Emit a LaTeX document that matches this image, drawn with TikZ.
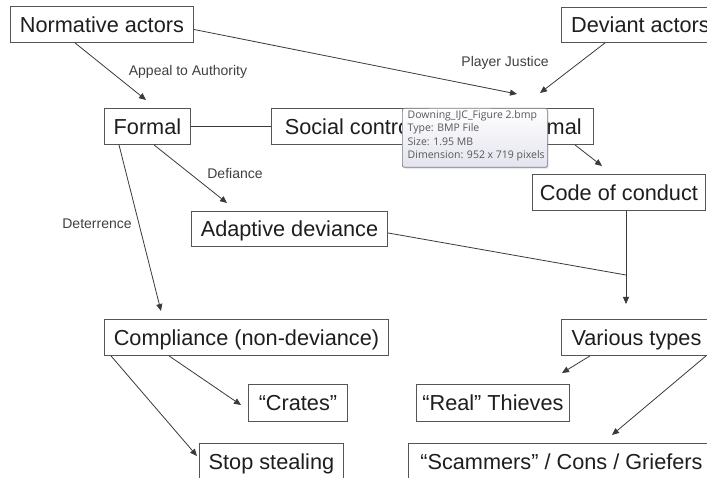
\documentclass[tikz,border=0pt]{standalone}
\usepackage{fontspec}
\setmainfont{Liberation Sans}
\newfontfamily\tipfont{Open Sans}
\usetikzlibrary{arrows.meta,shadows}
\definecolor{linec}{HTML}{3A3A3A}
\definecolor{boxc}{HTML}{555555}
\definecolor{txtc}{HTML}{1E1E1E}
\definecolor{lblc}{HTML}{404040}
\definecolor{tipborder}{HTML}{7A7A80}
\definecolor{tiptxt}{HTML}{575757}
\definecolor{tipbottom}{HTML}{E3E4EE}
\begin{document}
\begin{tikzpicture}[x=1pt,y=-1pt,
  box/.style={draw=boxc, line width=0.9pt, fill=white, anchor=north west, inner sep=0pt,
    text=txtc, font=\fontsize{21.7}{26}\selectfont, text height=15.5pt, text depth=0pt},
  lbl/.style={text=lblc, font=\fontsize{14}{16}\selectfont, inner sep=0pt},
  conn/.style={draw=linec, line width=0.8pt},
  arr/.style={conn, -{Triangle[length=7pt,width=6pt]}},
  tooltip/.style={draw=tipborder, line width=0.7pt, rounded corners=2pt, top color=white, bottom color=tipbottom,
    drop shadow={opacity=0.25, shadow xshift=1.2pt, shadow yshift=-1.2pt},
    anchor=north west, inner sep=0pt, text=tiptxt}
]
\useasboundingbox (0,0) rectangle (707,478);
\fill[white] (0,0) rectangle (707,478);
\clip (0,0) rectangle (707,478);

% boxes
\node[box, minimum width=183pt, minimum height=36pt] (norm) at (10,6) {Normative actors};
\node[box, minimum width=158pt, minimum height=35pt] (dev) at (561,7) {Deviant actors};
\node[box, minimum width=86pt, minimum height=36pt] (formal) at (104,108) {Formal};
\node[box, minimum width=157pt, minimum height=36pt] (social) at (271,108) {Social control};
\node[box, minimum width=102pt, minimum height=36pt] (informal) at (491,108) {Informal};
\node[box, minimum width=173pt, minimum height=36pt] (code) at (532,174) {Code of conduct};
\node[box, minimum width=196pt, minimum height=35pt] (adapt) at (191,211) {Adaptive deviance};
\node[box, minimum width=284pt, minimum height=36pt] (comp) at (104,319) {Compliance (non-deviance)};
\node[box, minimum width=150pt, minimum height=36pt] (various) at (561,319) {Various types};
\node[box, minimum width=99pt, minimum height=37pt] (crates) at (248,384) {“Crates”};
\node[box, minimum width=153pt, minimum height=37pt] (real) at (416,384) {“Real” Thieves};
\node[box, minimum width=144pt, minimum height=36pt] (stop) at (199,443) {Stop stealing};
\node[box, minimum width=306pt, minimum height=36pt] (scam) at (408,443) {“Scammers” / Cons / Griefers};

% free ends
\coordinate (eFormal) at (146,100);
\coordinate (eInfA) at (517,94);
\coordinate (eInfB) at (540,93);
\coordinate (eCode) at (602,166);
\coordinate (eAdapt) at (227,203);
\coordinate (eComp) at (161,311);
\coordinate (J) at (626,275);
\coordinate (eVar) at (626,304);
\coordinate (eCrates) at (241,405);
\coordinate (eStop) at (197,456);
\coordinate (eReal) at (562,373);
\coordinate (eScam) at (612,435);

% connectors
\draw[arr] ([xshift=65pt]norm.south west) -- (eFormal);
\draw[arr] ([yshift=-5pt]norm.east) -- (eInfA);
\draw[arr] ([xshift=44pt]dev.south west) -- (eInfB);
\draw[conn] (formal.east) -- (social.west);
\draw[conn] (social.east) -- (informal.west);
\draw[arr] ([xshift=84pt]informal.south west) -- (eCode);
\draw[arr] ([xshift=50pt]formal.south west) -- (eAdapt);
\draw[arr] ([xshift=15pt]formal.south west) -- (eComp);
\draw[conn] ([yshift=-4pt]adapt.east) -- (J);
\draw[arr] ([xshift=94pt]code.south west) -- (eVar);
\draw[arr] ([xshift=65pt]comp.south west) -- (eCrates);
\draw[arr] ([xshift=7pt]comp.south west) -- (eStop);
\draw[arr] ([xshift=29pt]various.south west) -- (eReal);
\draw[arr] ([xshift=145pt]various.south west) -- (eScam);

% labels
\node[lbl] (lAppeal) at (188,72) {Appeal to Authority};
\node[lbl] (lPlayer) at (505,63) {Player Justice};
\node[lbl] (lDef) at (235,173) {Defiance};
\node[lbl] (lDet) at (97,224) {Deterrence};

% tooltip overlay
\node[tooltip, minimum width=145pt, minimum height=59pt] (tip) at (402,108) {};
\node[anchor=north west, inner sep=0pt, text=tiptxt, align=left,
  font=\tipfont\fontsize{10.5}{13.5}\selectfont] (tiptext) at (407.5,110)
  {Downing\_IJC\_Figure 2.bmp\\Type: BMP File\\Size: 1.95 MB\\Dimension: 952 x 719 pixels};
\end{tikzpicture}
\end{document}
